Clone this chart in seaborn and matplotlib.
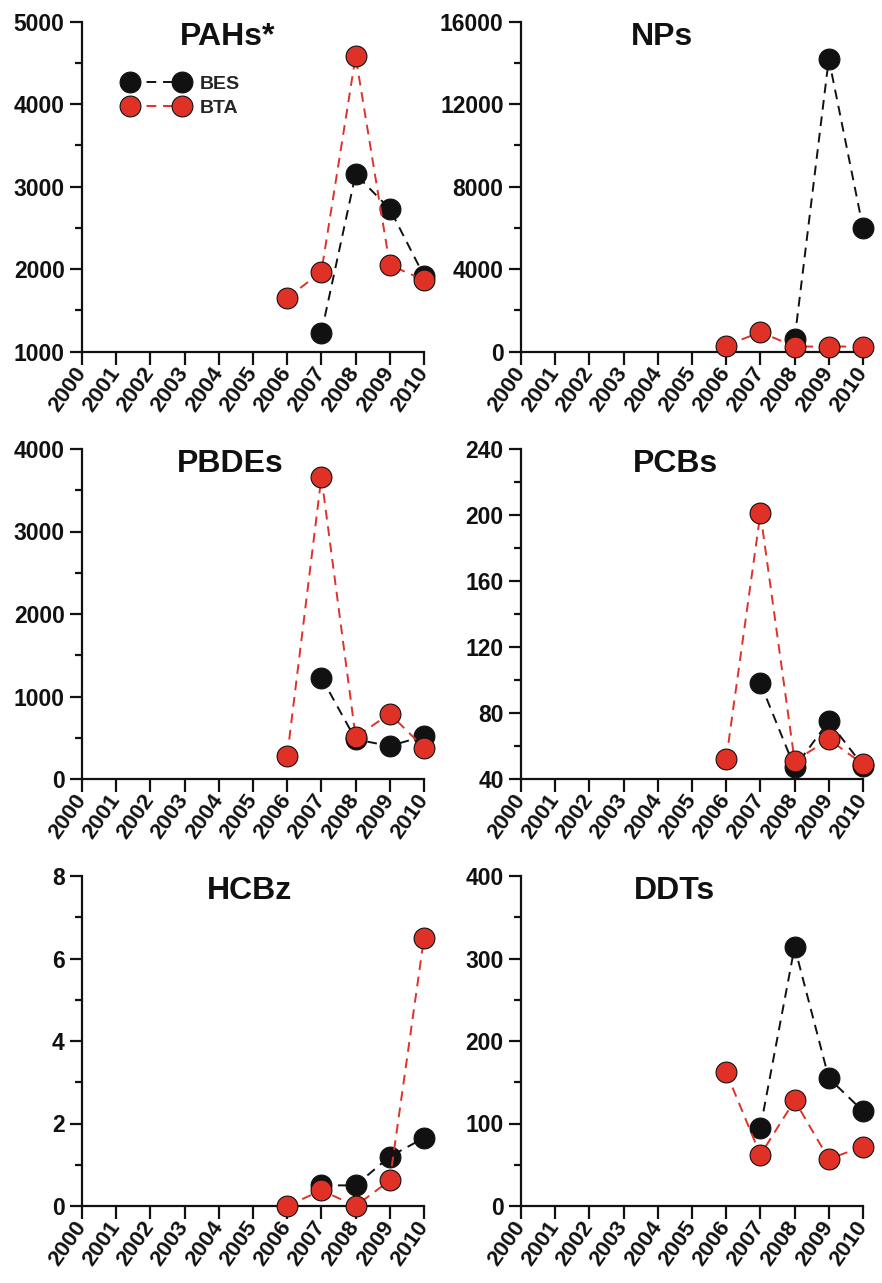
import numpy as np
import pandas as pd
import matplotlib
matplotlib.use("Agg")
import matplotlib.pyplot as plt
from matplotlib.ticker import MultipleLocator
import seaborn as sns

sns.set_style("ticks")
plt.rcParams["font.family"] = ["Liberation Sans", "DejaVu Sans"]
plt.rcParams["font.weight"] = "bold"

# Dados (None = sem amostra)
years = [2006, 2007, 2008, 2009, 2010]

pahs_bes = [None, 1230, 3150, 2730, 1920]
pahs_bta = [1650, 1970, 4580, 2050, 1870]

nps_bes = [None, None, 600, 14200, 6000]
nps_bta = [300, 950, 250, 250, 250]

pbdes_bes = [None, 1230, 480, 400, 520]
pbdes_bta = [280, 3660, 510, 790, 380]

pcbs_bes = [None, 98, 47, 75, 48]
pcbs_bta = [52, 201, 51, 64, 49]

hcbz_bes = [None, 0.5, 0.5, 1.2, 1.65]
hcbz_bta = [0.0, 0.38, 0.0, 0.62, 6.5]

ddts_bes = [None, 95, 314, 155, 115]
ddts_bta = [162, 62, 128, 57, 72]

titles = ["PAHs*", "NPs", "PBDEs", "PCBs", "HCBz", "DDTs"]
ylims = [(1000, 5000), (0, 16000), (0, 4000), (40, 240), (0, 8), (0, 400)]
major = [1000, 4000, 1000, 40, 2, 100]
title_x = [0.427, 0.412, 0.433, 0.453, 0.491, 0.45]

series = [(pahs_bes, pahs_bta), (nps_bes, nps_bta), (pbdes_bes, pbdes_bta),
          (pcbs_bes, pcbs_bta), (hcbz_bes, hcbz_bta), (ddts_bes, ddts_bta)]

black = "#111111"
red = "#E03127"

fig = plt.figure(figsize=(8.82, 12.83), dpi=100)
W, H = 882, 1283
lefts = [82, 521]
tops = [21.7, 449, 876]
aw, ah = 342, 330

for i, (bes, bta) in enumerate(series):
    r, c = divmod(i, 2)
    ax = fig.add_axes([lefts[c] / W, 1 - (tops[r] + ah) / H, aw / W, ah / H])

    df = pd.DataFrame({"ano": years, "BES": bes, "BTA": bta}).astype(float)
    for col, cor in [("BES", black), ("BTA", red)]:
        sns.lineplot(data=df, x="ano", y=col, ax=ax, color=cor, marker="o",
                     markersize=15, markeredgecolor=black, markeredgewidth=0.8,
                     linestyle=(0, (5, 3.5)), linewidth=1.4, label=col,
                     clip_on=False, zorder=3)

    ax.set_xlim(2000, 2010)
    ax.set_ylim(*ylims[i])
    ax.xaxis.set_major_locator(MultipleLocator(1))
    ax.yaxis.set_major_locator(MultipleLocator(major[i]))
    ax.yaxis.set_minor_locator(MultipleLocator(major[i] / 2))
    ax.set_xlabel("")
    ax.set_ylabel("")
    sns.despine(ax=ax)
    for s in ["left", "bottom"]:
        ax.spines[s].set_linewidth(1.6)
        ax.spines[s].set_color(black)
    ax.tick_params(axis="both", which="major", length=9, width=1.6, color=black)
    ax.tick_params(axis="y", which="minor", length=5, width=1.6, color=black)
    ax.set_yticks(ax.get_yticks())
    ax.set_yticklabels([f"{v:g}" for v in ax.get_yticks()], fontsize=16.5,
                       fontweight="bold", color=black)
    ax.set_ylim(*ylims[i])
    ax.set_xticks(range(2000, 2011))
    ax.set_xticklabels([str(y) for y in range(2000, 2011)], rotation=55,
                       ha="right", va="center", rotation_mode="anchor",
                       fontsize=16, fontweight="bold", color=black)

    ax.text(title_x[i], 1.0, titles[i], transform=ax.transAxes, ha="center",
            va="top", fontsize=23, fontweight="bold", color=black)

    if i == 0:
        leg = ax.legend(loc="upper left", bbox_to_anchor=(0.1, 0.86),
                        numpoints=2, handlelength=3.3, frameon=False,
                        fontsize=14, borderaxespad=0, labelspacing=0.3,
                        handletextpad=0.6)
        for t in leg.get_texts():
            t.set_fontweight("bold")
    else:
        ax.get_legend().remove()

fig.savefig("out.png", dpi=100)
